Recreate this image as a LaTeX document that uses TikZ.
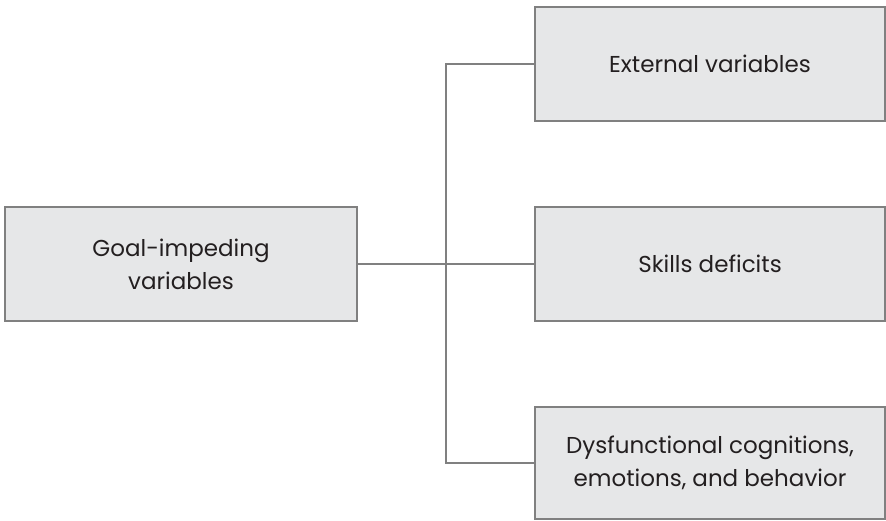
\documentclass[tikz,border=0pt]{standalone}
\usepackage{fontspec}
\setmainfont{Poppins}
\definecolor{boxfill}{HTML}{E6E7E8}
\definecolor{edge}{HTML}{808080}
\definecolor{ink}{HTML}{231F20}
\begin{document}
\begin{tikzpicture}[x=1pt,y=-1pt,
  catbox/.style={draw=edge, line width=2pt, fill=boxfill, rectangle,
    inner sep=0pt, align=center, text=ink,
    font=\fontsize{23}{33}\selectfont},
  link/.style={draw=edge, line width=2pt}]
  \useasboundingbox (0,0) rectangle (886,521);
  % boxes
  \node[catbox, minimum width=352pt, minimum height=114pt] (goal) at (181,264)
    {Goal-impeding\\variables};
  \node[catbox, minimum width=350pt, minimum height=114pt] (ext) at (710,64)
    {External variables};
  \node[catbox, minimum width=350pt, minimum height=114pt] (skill) at (710,264)
    {Skills deficits};
  \node[catbox, minimum width=350pt, minimum height=112pt] (dys) at (710,463)
    {Dysfunctional cognitions,\\emotions, and behavior};
  % tree connectors
  \coordinate (trunk) at (446,264);
  \draw[link] (goal.east) -- (skill.west);
  \draw[link] (ext.west) -| (trunk) |- (dys.west);
\end{tikzpicture}
\end{document}
